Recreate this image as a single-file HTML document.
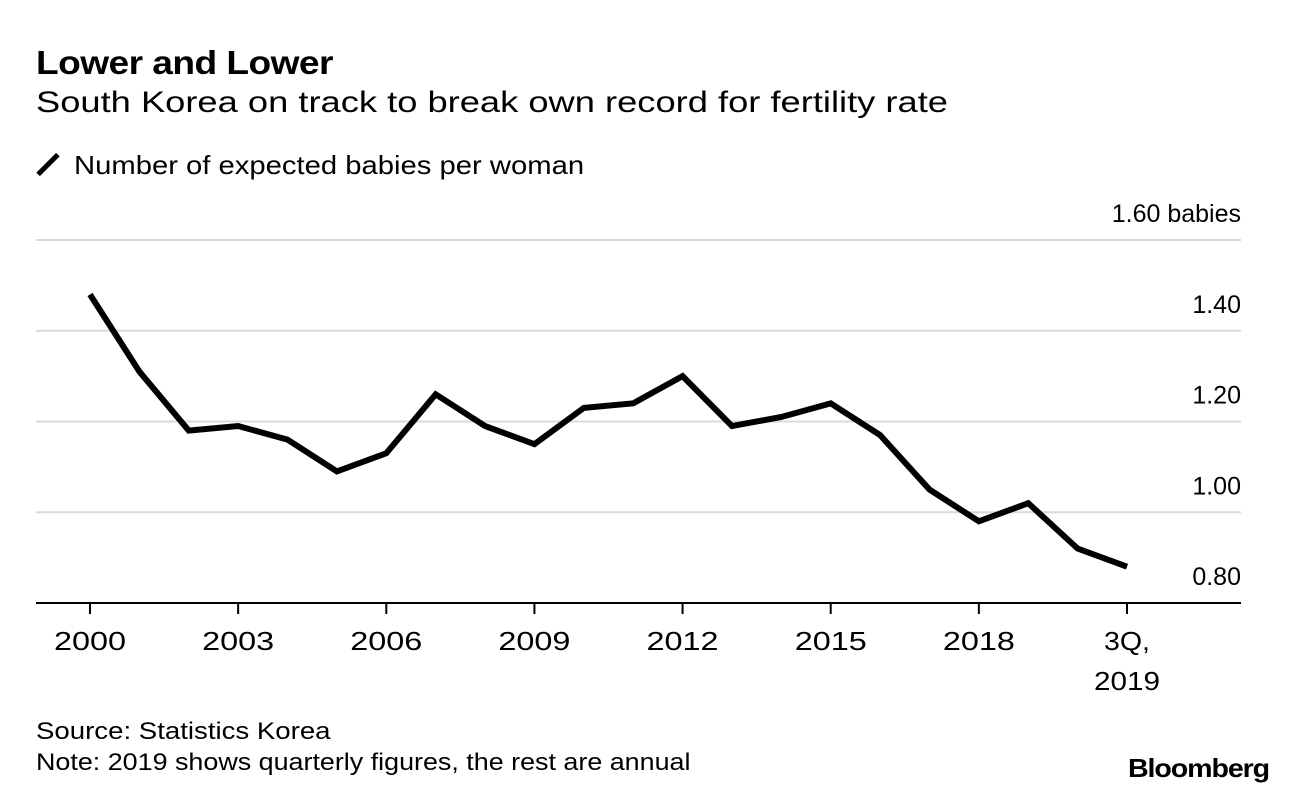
<!DOCTYPE html>
<html><head><meta charset="utf-8">
<style>
body{margin:0;width:1296px;height:792px;background:#fff;font-family:"Liberation Sans",sans-serif;color:#000;overflow:hidden;position:relative}
.t{position:absolute;white-space:nowrap;transform-origin:0 0}
</style></head>
<body>
<div class="t" style="left:36px;top:44px;font-size:33px;font-weight:bold;letter-spacing:-0.5px;transform:scaleX(1.125)">Lower and Lower</div>
<div class="t" style="left:36px;top:86px;font-size:30px;transform:scaleX(1.21)">South Korea on track to break own record for fertility rate</div>
<span style="position:absolute;left:34px;top:162px;width:28px;height:5px;background:#000;transform:rotate(-45deg)"></span>
<div class="t" style="left:74px;top:150px;font-size:26px;transform:scaleX(1.124)">Number of expected babies per woman</div>
<svg id="chart" width="1296" height="792" style="position:absolute;left:0;top:0"></svg>
<div class="t" style="left:36px;top:718px;font-size:24px;transform:scaleX(1.15)">Source: Statistics Korea</div>
<div class="t" style="left:36px;top:749px;font-size:24px;transform:scaleX(1.12)">Note: 2019 shows quarterly figures, the rest are annual</div>
<div class="t" style="left:1128px;top:753px;font-size:26px;font-weight:bold;letter-spacing:-1px;transform:scaleX(1.1)">Bloomberg</div>
<script>
const categories=["2000","2001","2002","2003","2004","2005","2006","2007","2008","2009","2010","2011","2012","2013","2014","2015","2016","2017","2018","1Q 2019","2Q 2019","3Q 2019"];
const values=[1.48,1.31,1.18,1.19,1.16,1.09,1.13,1.26,1.19,1.15,1.23,1.24,1.30,1.19,1.21,1.24,1.17,1.05,0.98,1.02,0.92,0.88];
const yTicks=[0.8,1.0,1.2,1.4,1.6];
const yTickLabels=["0.80","1.00","1.20","1.40","1.60 babies"];
const xTickIdx=[0,3,6,9,12,15,18,21];
const xTickLabels=["2000","2003","2006","2009","2012","2015","2018","3Q,"];
const NS="http://www.w3.org/2000/svg";
const svg=document.getElementById('chart');
const x=i=>90+i*(1127-90)/21;
const y=v=>603-(v-0.8)/0.8*363;
function mk(tag,attrs){const e=document.createElementNS(NS,tag);for(const k in attrs)e.setAttribute(k,attrs[k]);svg.appendChild(e);return e;}
yTicks.forEach((v,i)=>{
  if(v>0.8){const g=mk('line',{x1:36,x2:1241,y1:y(v),y2:y(v),stroke:'#d9d9d9','stroke-width':2});
  
  }
  const t=mk('text',{x:1241,y:y(v)-18,'text-anchor':'end','font-size':25,'font-family':'Liberation Sans, sans-serif'});
  t.textContent=yTickLabels[i];
  
  
});
const ax=mk('line',{x1:36,x2:1241,y1:603,y2:603,stroke:'#000','stroke-width':2});


xTickIdx.forEach((idx,i)=>{
  const tk=mk('line',{x1:x(idx),x2:x(idx),y1:603,y2:614,stroke:'#000','stroke-width':2});
  
  
  const isQ=xTickLabels[i].length<4;
  const t=mk('text',{x:x(idx),y:650,'text-anchor':'middle','font-size':26,textLength:isQ?46:72,lengthAdjust:'spacingAndGlyphs','font-family':'Liberation Sans, sans-serif'});
  t.textContent=xTickLabels[i];
  
  
});
const t2=mk('text',{x:x(21),y:690,'text-anchor':'middle','font-size':26,textLength:66,lengthAdjust:'spacingAndGlyphs','font-family':'Liberation Sans, sans-serif'});
t2.textContent="2019";


const pts=values.map((v,i)=>x(i)+','+y(v)).join(' ');
const line=mk('polyline',{points:pts,fill:'none',stroke:'#000','stroke-width':6,'stroke-linejoin':'miter','stroke-linecap':'butt'});


</script>
</body></html>
